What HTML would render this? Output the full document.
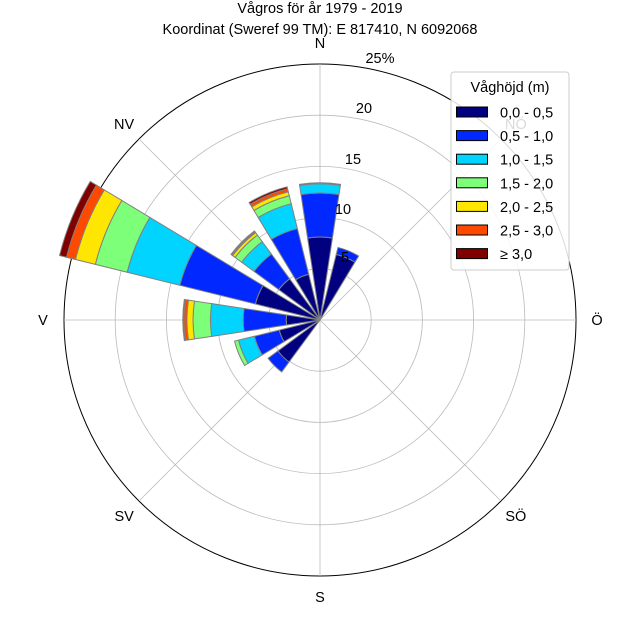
<!DOCTYPE html>
<html><head><meta charset="utf-8"><style>
body{margin:0;background:#fff}
svg{display:block;font-family:"Liberation Sans",sans-serif}
</style></head><body>
<svg id="chart" width="640" height="640" viewBox="0 0 640 640">
<text x="320" y="13" text-anchor="middle" font-size="14.5">Vågros för år 1979 - 2019</text>
<text x="320" y="34" text-anchor="middle" font-size="14.5">Koordinat (Sweref 99 TM): E 817410, N 6092068</text>
<g id="grid"></g>
<g id="bars"></g>
<g id="labels"></g>
<g id="legend"></g>
</svg>
<script>
const directions=["N","NNÖ","NÖ","ÖNÖ","Ö","ÖSÖ","SÖ","SSÖ","S","SSV","SV","VSV","V","VNV","NV","NNV"];
const classes=["0,0 - 0,5","0,5 - 1,0","1,0 - 1,5","1,5 - 2,0","2,0 - 2,5","2,5 - 3,0","≥ 3,0"];
const colors=["#000080","#0028ff","#00d4ff","#7dff7a","#ffe600","#ff4800","#800000"];
// cumulative percent per class for each direction
const s0=[8.1,6.6,0,0,0,0,0,0,0,0,5.1,4.1,3.3,6.5,5.0,4.6];
const s1=[4.3,0.7,0,0,0,0,0,0,0,0,1.2,2.5,4.2,7.6,3.0,4.6];
const s2=[0.9,0,0,0,0,0,0,0,0,0,0,1.6,3.2,5.3,1.5,2.5];
const s3=[0.1,0,0,0,0,0,0,0,0,0,0,0.4,1.7,3.2,0.8,0.8];
const s4=[0,0,0,0,0,0,0,0,0,0,0,0,0.6,2.0,0.3,0.4];
const s5=[0,0,0,0,0,0,0,0,0,0,0,0,0.3,0.9,0.1,0.3];
const s6=[0,0,0,0,0,0,0,0,0,0,0,0,0.1,0.7,0.1,0.2];
const rTicks=[5,10,15,20,25];
const rTickLabels=["5","10","15","20","25%"];
const dirLabels=["N","NÖ","Ö","SÖ","S","SV","V","NV"];
const NS="http://www.w3.org/2000/svg";
const cx=320,cy=320,R=256,rMax=25;
const rad=v=>v/rMax*R;
function pt(r,deg){const a=deg*Math.PI/180;return[cx+r*Math.sin(a),cy-r*Math.cos(a)];}
function mk(tag,attrs,parent){const e=document.createElementNS(NS,tag);for(const k in attrs)e.setAttribute(k,attrs[k]);parent.appendChild(e);return e;}
const grid=document.getElementById('grid');
rTicks.forEach((t,i)=>{
 const c=mk('circle',{cx:cx,cy:cy,r:rad(t),fill:'none',stroke:i==rTicks.length-1?'#000':'#bbb','stroke-width':i==rTicks.length-1?1:0.8},grid);
 
 
});
for(let k=0;k<8;k++){const p=pt(R,k*45);const l=mk('line',{x1:cx,y1:cy,x2:p[0],y2:p[1],stroke:'#bbb','stroke-width':0.8},grid);
 
 }
const bars=document.getElementById('bars');
const series=[s0,s1,s2,s3,s4,s5,s6];
const half=8.6;
directions.forEach((d,i)=>{
 const ang=i*22.5;let base=0;
 series.forEach((s,j)=>{
  const v=s[i];if(v<=0)return;
  const r0=rad(base),r1=rad(base+v);base+=v;
  const a=pt(r0,ang-half),b=pt(r1,ang-half),c=pt(r1,ang+half),e=pt(r0,ang+half);
  const dd=`M${a[0]},${a[1]} L${b[0]},${b[1]} A${r1},${r1} 0 0 1 ${c[0]},${c[1]} L${e[0]},${e[1]} `+(r0>0?`A${r0},${r0} 0 0 0 ${a[0]},${a[1]}`:'')+'Z';
  const p=mk('path',{d:dd,fill:colors[j],stroke:'#808080','stroke-width':1},bars);
  
  
 });
});
const labels=document.getElementById('labels');
const tickPos=[[345,262],[343,214],[353,164],[364,113],[380,63]];
rTickLabels.forEach((t,i)=>{const tx=mk('text',{x:tickPos[i][0],y:tickPos[i][1],'font-size':14.5,'text-anchor':'middle'},labels);tx.textContent=t;
 
 });
dirLabels.forEach((t,k)=>{const p=pt(R+21,k*45);const tx=mk('text',{x:p[0],y:p[1]+5,'font-size':14.5,'text-anchor':'middle'},labels);tx.textContent=t;
 
 });
const lg=document.getElementById('legend');
const box=mk('rect',{x:451,y:72,width:118,height:198,rx:3,fill:'#fff','fill-opacity':0.85,stroke:'#ccc'},lg);


const lt=mk('text',{x:510,y:92,'font-size':14.5,'text-anchor':'middle'},lg);lt.textContent='Våghöjd (m)';


classes.forEach((c,j)=>{const y=112+j*23.6;
 const g=mk('g',{},lg);
 
 
 mk('rect',{x:456.5,y:y-5,width:31,height:10,fill:colors[j],stroke:'#000','stroke-width':1},g);
 const tx=mk('text',{x:500,y:y+5.5,'font-size':14.5},g);tx.textContent=c;});
</script>
</body></html>
